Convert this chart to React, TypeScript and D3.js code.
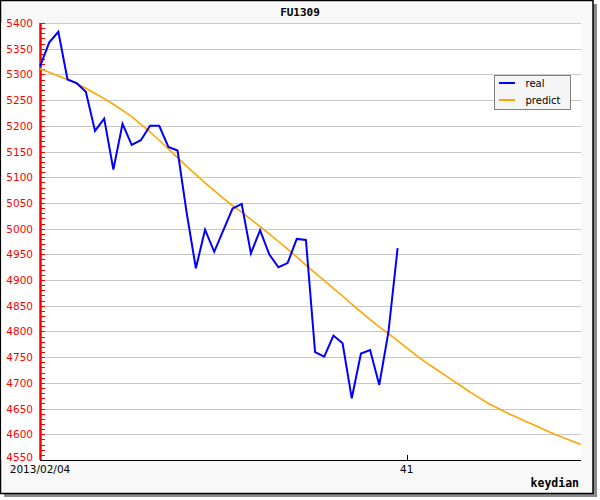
import React from "react";
import * as d3 from "d3";

const title = "FU1309";
const xAxisTitle = "keydian";
const seriesNames = ["real", "predict"];
const seriesColors = ["#0000ff", "#ffa500"];

const realValues = [
  5315, 5362, 5383, 5290, 5283, 5266, 5190, 5214, 5115, 5204,
  5163, 5172, 5200, 5200, 5159, 5152, 5030, 4923, 4998, 4955,
  4997, 5039, 5048, 4952, 4997, 4950, 4925, 4933, 4980, 4978,
  4760, 4751, 4792, 4777, 4670, 4757, 4764, 4696, 4799, 4962,
];

const predictValues = [
  5311, 5304, 5297, 5290, 5282, 5273, 5263, 5253, 5242, 5230,
  5218, 5203, 5188, 5172, 5155, 5138, 5121, 5105, 5089, 5074,
  5059, 5045, 5032, 5018, 5004, 4990, 4975, 4960, 4945, 4929,
  4914, 4899, 4884, 4869, 4853, 4838, 4823, 4809, 4796, 4782,
  4768, 4754, 4741, 4729, 4717, 4705, 4693, 4681, 4670, 4659,
  4650, 4641, 4633, 4625, 4617, 4609, 4601, 4594, 4587, 4580,
];

const xTickIndices = [0, 40];
const xTickLabels = ["2013/02/04", "41"];
const yMin = 4550;
const yMax = 5400;
const yMajorStep = 50;
const yMinorStep = 10;

export default function App() {
  const W = 600;
  const H = 500;
  const left = 40;
  const right = 581;
  const top = 23;
  const bottom = 460;

  const x = d3.scaleLinear().domain([0, predictValues.length - 1]).range([left, right]);
  const y = d3.scaleLinear().domain([yMin, yMax]).range([bottom, top]);

  const majorTicks = d3.range(yMin, yMax + 1, yMajorStep);
  const minorTicks = d3.range(yMin, yMax + 1, yMinorStep);

  const line = d3
    .line<number>()
    .x((_, i) => x(i))
    .y((d) => y(d));

  return (
    <svg
      width={W}
      height={H}
      style={{ position: "absolute", left: 0, top: 0, display: "block" }}
    >
      {/* shadow */}
      <rect x={4} y={4} width={593} height={493} fill="#8a8a8a" />
      {/* frame */}
      <rect x={0.5} y={0.5} width={592.5} height={493} fill="#f8f8f8" stroke="#000" strokeWidth={1.5} />
      {/* white plotting region */}
      <rect x={1.3} y={top} width={right - 1.3} height={bottom - top} fill="#ffffff" />

      {/* title */}
      <text
        x={300}
        y={16}
        textAnchor="middle"
        fontFamily="DejaVu Sans Mono"
        fontWeight="bold"
        fontSize={11}
        fill="#000"
      >
        {title}
      </text>

      {/* gridlines */}
      {majorTicks
        .filter((v) => v !== yMin)
        .map((v) => (
          <line
            key={"g" + v}
            x1={left}
            x2={right}
            y1={Math.round(y(v)) + 0.5}
            y2={Math.round(y(v)) + 0.5}
            stroke="#c8c8c8"
            strokeWidth={1}
          />
        ))}

      {/* y minor/major ticks */}
      {minorTicks.map((v) => (
        <line
          key={"t" + v}
          x1={left}
          x2={left + 5}
          y1={Math.round(y(v)) + 0.5}
          y2={Math.round(y(v)) + 0.5}
          stroke="#ff0000"
          strokeWidth={1}
        />
      ))}
      {/* y labels */}
      {majorTicks.map((v) => (
        <text
          key={"l" + v}
          x={33}
          y={v === yMin ? y(v) + 1 : y(v) + 4}
          textAnchor="end"
          fontFamily="DejaVu Sans"
          fontSize={10.5}
          fill="#ff0000"
        >
          {v}
        </text>
      ))}
      {/* y axis line */}
      <line x1={left + 0.5} x2={left + 0.5} y1={top} y2={bottom} stroke="#ff0000" strokeWidth={2.5} />

      {/* x axis */}
      <line x1={left} x2={right} y1={bottom + 0.5} y2={bottom + 0.5} stroke="#000" strokeWidth={1.2} />
      {xTickIndices.map((idx, k) => (
        <g key={"xt" + k}>
          {k > 0 && (
            <line
              x1={Math.round(x(idx)) + 0.5}
              x2={Math.round(x(idx)) + 0.5}
              y1={bottom - 5}
              y2={bottom}
              stroke="#000"
              strokeWidth={1}
            />
          )}
          <text
            x={x(idx)}
            y={472.5}
            textAnchor="middle"
            fontFamily="DejaVu Sans"
            fontSize={10.5}
            fill="#000"
          >
            {xTickLabels[k]}
          </text>
        </g>
      ))}
      <text
        x={579}
        y={487}
        textAnchor="end"
        fontFamily="DejaVu Sans Mono"
        fontWeight="bold"
        fontSize={11.5}
        fill="#000"
      >
        {xAxisTitle}
      </text>

      {/* series */}
      <path d={line(predictValues) || ""} fill="none" stroke={seriesColors[1]} strokeWidth={1.6} />
      <path d={line(realValues) || ""} fill="none" stroke={seriesColors[0]} strokeWidth={2} />

      {/* legend */}
      <rect x={494.5} y={75.5} width={76} height={34} fill="#f5f5f5" stroke="#808080" strokeWidth={1} />
      {seriesNames.map((n, i) => (
        <g key={n}>
          <line
            x1={499}
            x2={515}
            y1={83 + i * 17}
            y2={83 + i * 17}
            stroke={seriesColors[i]}
            strokeWidth={2}
          />
          <text x={525.5} y={86.5 + i * 17} fontFamily="DejaVu Sans" fontSize={10} fill="#000">
            {n}
          </text>
        </g>
      ))}
    </svg>
  );
}
